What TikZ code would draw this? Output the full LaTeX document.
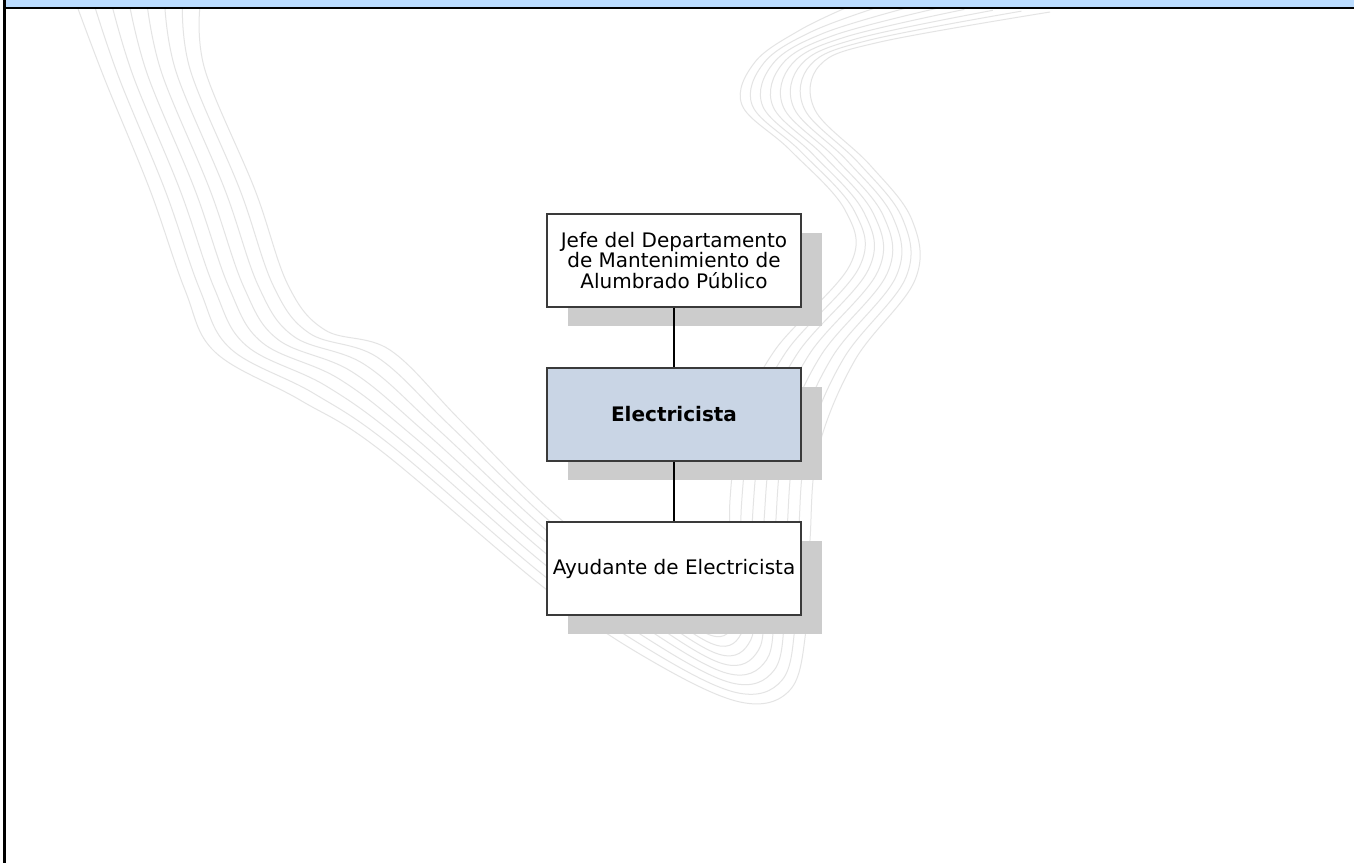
\documentclass[tikz,border=0pt]{standalone}
\usepackage{fontspec}
\setmainfont{DejaVu Sans}
\usetikzlibrary{shadows}

\definecolor{barblue}{HTML}{BBDCFF}
\definecolor{boxline}{HTML}{3A3A3A}
\definecolor{shadowgray}{HTML}{CCCCCC}
\definecolor{wavegray}{HTML}{E4E4E4}
\definecolor{focusfill}{HTML}{C9D5E5}

\tikzset{
  orgbox/.style={draw=boxline, line width=1.3pt, fill=white,
    minimum width=254pt, minimum height=93pt, inner sep=0pt,
    align=center, font=\fontsize{20}{20.7}\selectfont,
    drop shadow={shadow xshift=21pt, shadow yshift=-19pt,
      shadow scale=1, opacity=1, fill=shadowgray}},
  focusbox/.style={orgbox, fill=focusfill, font=\fontsize{20}{20.7}\selectfont\bfseries},
  link/.style={draw=black, line width=1.6pt},
  waveline/.style={draw=wavegray, line width=1pt},
  frameline/.style={draw=black, line width=2.5pt}
}

\begin{document}
\begin{tikzpicture}[x=1pt, y=-1pt]
  \useasboundingbox (0,0) rectangle (1354,863);
  \fill[white] (0,0) rectangle (1354,863);

  % decorative band of parallel curves in the background
  \begin{scope}
    \clip (6,9) rectangle (1354,863);
    \foreach \i in {0,...,7}{
      \pgfmathsetmacro\wt{\i/7}
      \gdef\wavepts{}
      \foreach \ax/\ay/\bx/\by in {
          77/6/200/6, 105/80/205/70, 150/190/255/190, 185/290/288/285,
          215/352/325/330, 300/400/390/350, 380/450/460/420, 547/590/547/507,
          650/660/640/585, 740/702/710/635, 790/690/735/620, 806/630/732/570,
          810/540/730/500, 818/450/742/420, 855/360/775/350, 915/280/850/265,
          912/220/845/210, 870/165/790/150, 815/110/742/105, 820/65/755/62,
          880/42/800/30, 1050/12/850/6}{
        \pgfmathsetmacro\px{\ax+(\bx-\ax)*\wt}
        \pgfmathsetmacro\py{\ay+(\by-\ay)*\wt}
        \xdef\wavepts{\wavepts (\px,\py)}
      }
      \edef\wavecmd{\noexpand\draw[waveline] plot[smooth,tension=0.6] coordinates {\wavepts};}
      \wavecmd
    }
  \end{scope}

  % title bar and frame
  \fill[barblue] (6,0) rectangle (1354,7);
  \draw[frameline] (3.3,8) -- (1354,8);
  \draw[frameline] (4.5,0) -- (4.5,863);

  % organisation chart
  \node[orgbox] (jefe) at (674,260.5)
    {Jefe del Departamento\\de Mantenimiento de\\Alumbrado Público};
  \node[focusbox] (elec) at (674,414.5) {Electricista};
  \node[orgbox] (ayud) at (674,568.5) {Ayudante de Electricista};

  \draw[link] (jefe.south) -- (elec.north);
  \draw[link] (elec.south) -- (ayud.north);
\end{tikzpicture}
\end{document}
